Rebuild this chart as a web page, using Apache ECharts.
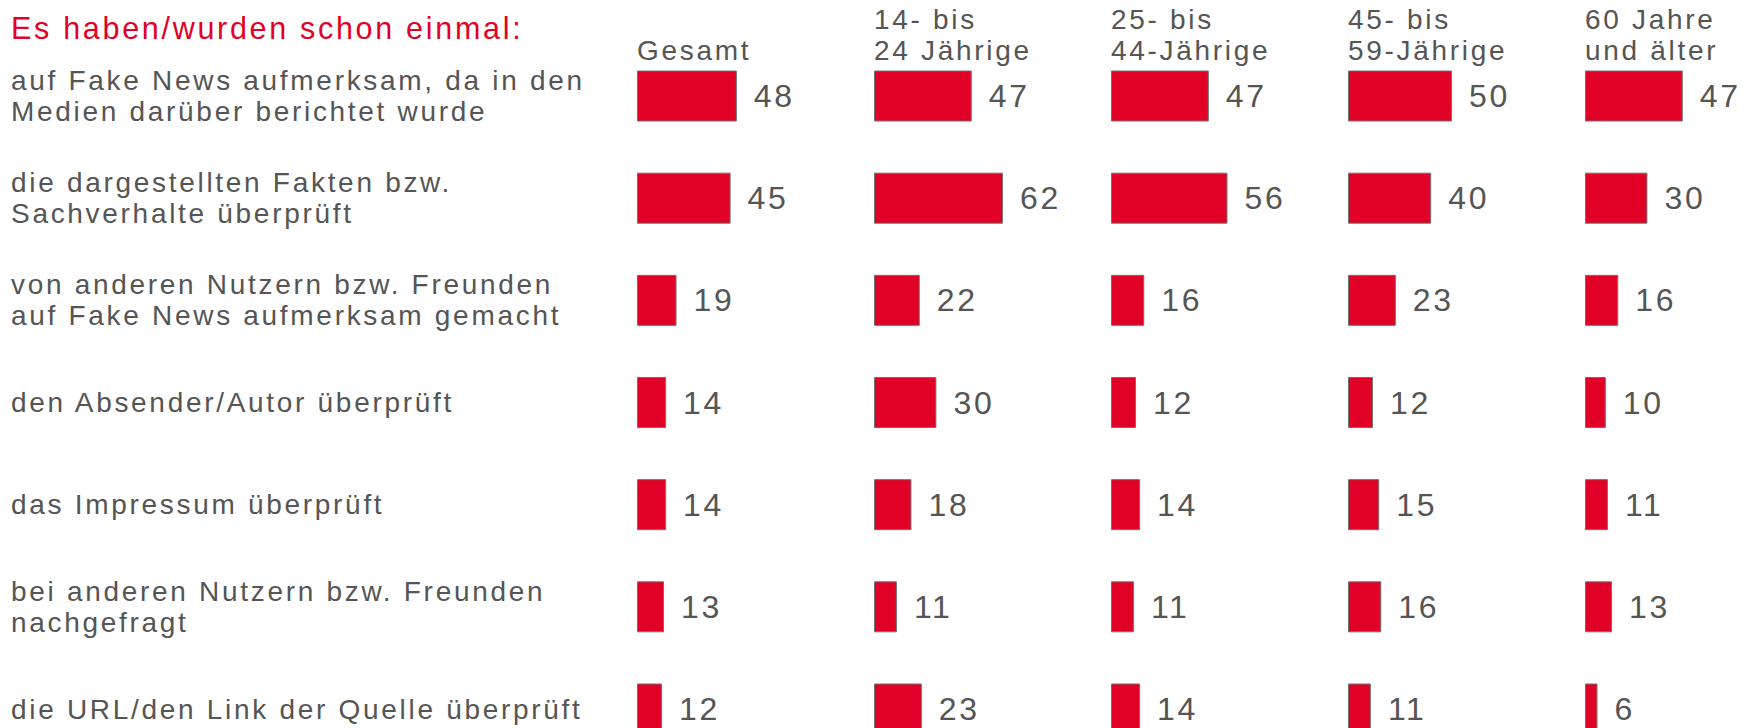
<!DOCTYPE html>
<html>
<head>
<meta charset="utf-8">
<script src="https://cdn.jsdelivr.net/npm/echarts@6/dist/echarts.min.js"></script>
<style>
    html, body { margin: 0; padding: 0; background: #fff; }
    #chart { width: 1747px; height: 728px; }
    /* the source uses spaced-out lettering */
    #chart text { letter-spacing: 2.7px; }
</style>
</head>
<body>
<div id="chart"></div>
<script>
const titleText = 'Es haben/wurden schon einmal:';
const categories = [
    'auf Fake News aufmerksam, da in den\nMedien darüber berichtet wurde',
    'die dargestellten Fakten bzw.\nSachverhalte überprüft',
    'von anderen Nutzern bzw. Freunden\nauf Fake News aufmerksam gemacht',
    'den Absender/Autor überprüft',
    'das Impressum überprüft',
    'bei anderen Nutzern bzw. Freunden\nnachgefragt',
    'die URL/den Link der Quelle überprüft'
];
const groups = ['Gesamt', '14- bis\n24 Jährige', '25- bis\n44-Jährige', '45- bis\n59-Jährige', '60 Jahre\nund älter'];
const gesamt = [48, 45, 19, 14, 14, 13, 12];
const jahre14bis24 = [47, 62, 22, 30, 18, 11, 23];
const jahre25bis44 = [47, 56, 16, 12, 14, 11, 14];
const jahre45bis59 = [50, 40, 23, 12, 15, 16, 11];
const jahre60plus = [47, 30, 16, 10, 11, 13, 6];
const seriesValues = [gesamt, jahre14bis24, jahre25bis44, jahre45bis59, jahre60plus];

const red = '#e10026';
const grey = '#555555';
const font = '"Liberation Sans", Arial, sans-serif';
const colLeft = 637;
const colStep = 237;

let myChart = echarts.init(document.getElementById('chart'), null, { renderer: 'svg' });

let grid = [], xAxis = [], yAxis = [], series = [], graphic = [];
seriesValues.forEach(function (vals, i) {
    // rows sit on the axis points, first at y=96, last at y=709
    // 156px for 75 units -> same scale in every column, last grid stays inside the canvas
    grid.push({ left: colLeft + i * colStep, top: 96, width: 156, height: 613 });
    xAxis.push({
        type: 'value', gridIndex: i, min: 0, max: 75, show: false
    });
    yAxis.push({
        type: 'category', gridIndex: i, data: categories, inverse: true,
        boundaryGap: false,
        axisLine: { show: false }, axisTick: { show: false }, splitLine: { show: false },
        axisLabel: {
            show: i === 0,
            align: 'left',
            margin: colLeft - 11,
            color: grey,
            fontSize: 28,
            lineHeight: 31,
            fontFamily: font
        }
    });
    series.push({
        type: 'bar', xAxisIndex: i, yAxisIndex: i,
        data: vals,
        barWidth: 51,
        itemStyle: { color: red, borderColor: '#707070', borderWidth: 1 },
        label: {
            show: true,
            position: 'right',
            distance: 17,
            color: grey,
            fontSize: 32,
            fontFamily: font
        },
        silent: true
    });
    // column header
    graphic.push({
        type: 'text',
        left: colLeft + i * colStep,
        bottom: 728 - 66,
        style: {
            text: groups[i],
            fill: grey,
            fontSize: 28,
            lineHeight: 31,
            fontFamily: font
        }
    });
});

let option = {
    animation: false,
    title: {
        text: titleText,
        left: 11,
        top: 12,
        padding: 0,
        textStyle: { color: red, fontSize: 30.5, fontWeight: 'normal', fontFamily: font }
    },
    grid: grid,
    xAxis: xAxis,
    yAxis: yAxis,
    series: series,
    graphic: graphic
};
myChart.setOption(option);
</script>
</body>
</html>
